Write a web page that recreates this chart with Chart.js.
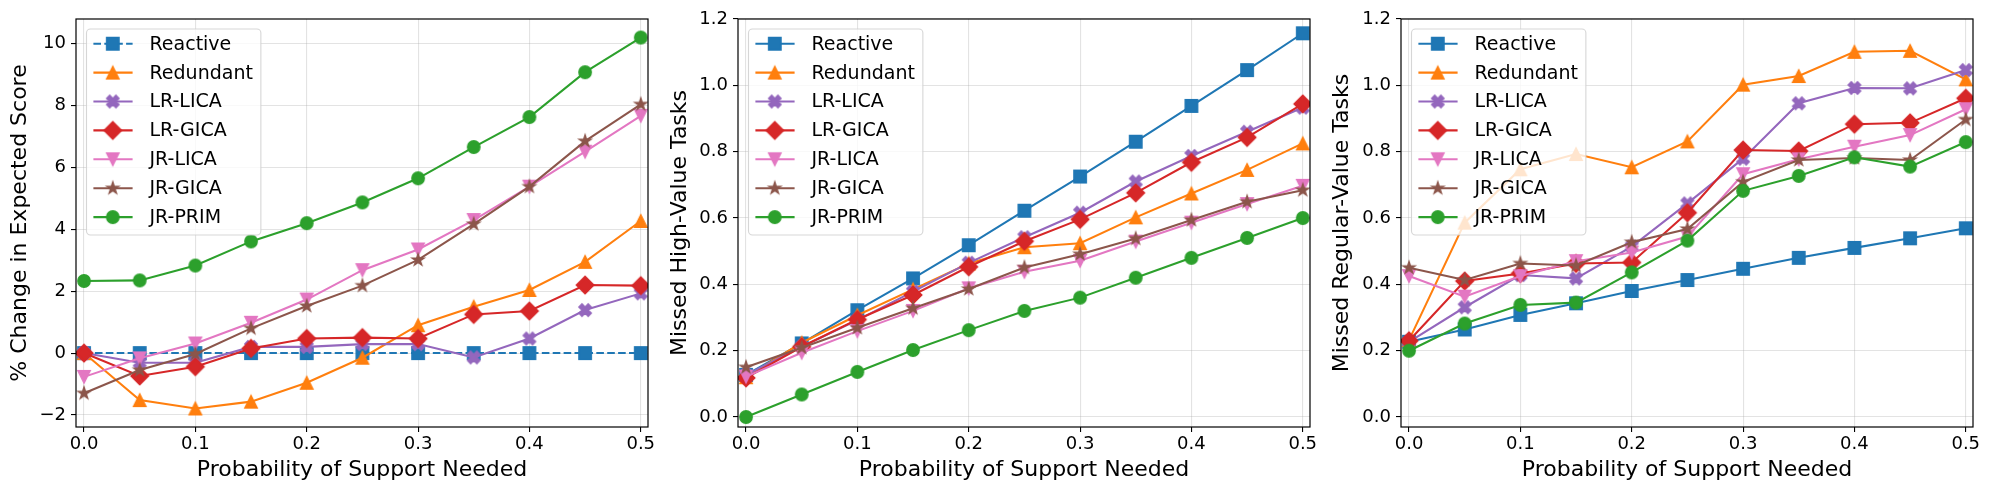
<!DOCTYPE html>
<html>
<head>
<meta charset="utf-8">
<script src="https://cdn.jsdelivr.net/npm/chart.js@4.4.1/dist/chart.umd.min.js"></script>
<style>
body { margin: 0; background: #fff; width: 1991px; height: 491px; overflow: hidden; position: relative; }
canvas { position: absolute; top: 0; }
</style>
</head>
<body>
<canvas id="c1" width="660" height="491" style="left:0px"></canvas>
<canvas id="c2" width="662" height="491" style="left:660px"></canvas>
<canvas id="c3" width="669" height="491" style="left:1322px"></canvas>
<script>
var probs = [0, 0.05, 0.1, 0.15, 0.2, 0.25, 0.3, 0.35, 0.4, 0.45, 0.5];
var xTicks = [0, 0.1, 0.2, 0.3, 0.4, 0.5];
var scoreTicks = [-2, 0, 2, 4, 6, 8, 10];
var missedTicks = [0, 0.2, 0.4, 0.6, 0.8, 1.0, 1.2];

var names = ["Reactive", "Redundant", "LR-LICA", "LR-GICA", "JR-LICA", "JR-GICA", "JR-PRIM"];
var colors = ["#1f77b4", "#ff7f0e", "#9467bd", "#d62728", "#e377c2", "#8c564b", "#2ca02c"];
var markers = ["square", "triangle", "xfilled", "diamond", "tridown", "star", "circle"];

// % change in expected score
var scoreReactive  = [0, 0, 0, 0, 0, 0, 0, 0, 0, 0, 0];
var scoreRedundant = [0, -1.52, -1.79, -1.57, -0.96, -0.15, 0.9, 1.5, 2.04, 2.95, 4.27];
var scoreLRLICA    = [0, -0.31, -0.31, 0.2, 0.2, 0.29, 0.29, -0.14, 0.47, 1.39, 1.93];
var scoreLRGICA    = [0, -0.74, -0.44, 0.15, 0.47, 0.5, 0.47, 1.25, 1.36, 2.2, 2.18];
var scoreJRLICA    = [-0.77, -0.17, 0.31, 0.98, 1.73, 2.68, 3.35, 4.3, 5.38, 6.51, 7.67];
var scoreJRGICA    = [-1.3, -0.55, -0.03, 0.8, 1.52, 2.18, 3.01, 4.17, 5.38, 6.85, 8.04];
var scoreJRPRIM    = [2.33, 2.35, 2.83, 3.61, 4.2, 4.87, 5.65, 6.66, 7.63, 9.08, 10.2];

// missed high-value tasks
var highReactive  = [0.127, 0.222, 0.322, 0.418, 0.518, 0.622, 0.725, 0.83, 0.938, 1.046, 1.157];
var highRedundant = [0.12, 0.224, 0.307, 0.385, 0.463, 0.512, 0.524, 0.602, 0.674, 0.745, 0.825];
var highLRLICA    = [0.127, 0.212, 0.292, 0.378, 0.465, 0.542, 0.616, 0.71, 0.787, 0.86, 0.933];
var highLRGICA    = [0.118, 0.212, 0.294, 0.368, 0.453, 0.53, 0.596, 0.676, 0.768, 0.843, 0.944];
var highJRLICA    = [0.122, 0.194, 0.259, 0.32, 0.388, 0.438, 0.471, 0.529, 0.586, 0.642, 0.697];
var highJRGICA    = [0.15, 0.209, 0.269, 0.328, 0.386, 0.451, 0.491, 0.538, 0.594, 0.649, 0.684];
var highJRPRIM    = [0, 0.068, 0.136, 0.202, 0.262, 0.32, 0.36, 0.42, 0.48, 0.54, 0.6];

// missed regular-value tasks
var regReactive  = [0.227, 0.264, 0.308, 0.343, 0.38, 0.413, 0.447, 0.48, 0.51, 0.539, 0.569];
var regRedundant = [0.232, 0.586, 0.747, 0.793, 0.753, 0.831, 1.002, 1.028, 1.101, 1.104, 1.018];
var regLRLICA    = [0.227, 0.331, 0.428, 0.418, 0.514, 0.644, 0.779, 0.946, 0.992, 0.991, 1.046];
var regLRGICA    = [0.23, 0.41, 0.433, 0.463, 0.466, 0.616, 0.805, 0.802, 0.883, 0.887, 0.961];
var regJRLICA    = [0.425, 0.363, 0.425, 0.47, 0.496, 0.544, 0.732, 0.777, 0.815, 0.85, 0.928];
var regJRGICA    = [0.45, 0.413, 0.463, 0.457, 0.527, 0.567, 0.709, 0.775, 0.781, 0.775, 0.897];
var regJRPRIM    = [0.2, 0.282, 0.338, 0.345, 0.436, 0.532, 0.682, 0.727, 0.783, 0.755, 0.829];

Chart.defaults.font.family = "'DejaVu Sans', sans-serif";
Chart.defaults.color = "#000";

// matplotlib-like marker glyphs
function markerCanvas(kind, color) {
	var S = 12.4;
	var c = document.createElement("canvas");
	c.width = 24; c.height = 24;
	var g = c.getContext("2d");
	g.translate(12, 12);
	g.beginPath();
	if (kind == "circle") {
		g.arc(0, 0, S / 2, 0, Math.PI * 2);
	} else if (kind == "square") {
		g.rect(-S / 2, -S / 2, S, S);
	} else if (kind == "triangle") {
		g.moveTo(0, -S / 2); g.lineTo(S / 2, S / 2); g.lineTo(-S / 2, S / 2);
	} else if (kind == "tridown") {
		g.moveTo(0, S / 2); g.lineTo(S / 2, -S / 2); g.lineTo(-S / 2, -S / 2);
	} else if (kind == "diamond") {
		let d = S * 0.7071;
		g.moveTo(0, -d); g.lineTo(d, 0); g.lineTo(0, d); g.lineTo(-d, 0);
	} else if (kind == "xfilled") {
		let pts = [[0.25,0],[0.5,0.25],[0.75,0],[1,0.25],[0.75,0.5],[1,0.75],[0.75,1],[0.5,0.75],[0.25,1],[0,0.75],[0.25,0.5],[0,0.25]];
		for (let i = 0; i < pts.length; i++) {
			let px = (pts[i][0] - 0.5) * S, py = (pts[i][1] - 0.5) * S;
			if (i == 0) g.moveTo(px, py); else g.lineTo(px, py);
		}
	} else if (kind == "star") {
		for (let k = 0; k < 10; k++) {
			let r = (k % 2) ? S / 2 * 0.381966 : S / 2;
			let a = -Math.PI / 2 + k * Math.PI / 5;
			if (k == 0) g.moveTo(r * Math.cos(a), r * Math.sin(a));
			else g.lineTo(r * Math.cos(a), r * Math.sin(a));
		}
	}
	g.closePath();
	g.fillStyle = color;
	g.fill();
	g.lineWidth = 1.4;
	g.strokeStyle = color;
	g.stroke();
	return c;
}

var markerImgs = markers.map(function(m, i) { return markerCanvas(m, colors[i]); });

// frame + legend drawn inside the axes, like matplotlib
var frameLegend = {
	id: "frameLegend",
	afterDatasetsDraw: function(chart) {
		var ctx = chart.ctx, a = chart.chartArea;
		ctx.save();
		ctx.strokeStyle = "#000";
		ctx.lineWidth = 1.2;
		ctx.strokeRect(a.left, a.top, a.right - a.left, a.bottom - a.top);

		ctx.font = "19px 'DejaVu Sans'";
		var maxW = 0;
		for (let n of names) maxW = Math.max(maxW, ctx.measureText(n).width);
		var bx = a.left + 10.5, by = a.top + 10, bw = 63 + maxW + 8, bh = 206;
		ctx.beginPath();
		ctx.roundRect(bx, by, bw, bh, 4);
		ctx.fillStyle = "rgba(255,255,255,0.8)";
		ctx.fill();
		ctx.strokeStyle = "rgba(204,204,204,0.8)";
		ctx.lineWidth = 1.1;
		ctx.stroke();

		var dsets = chart.data.datasets;
		for (let i = 0; i < names.length; i++) {
			let cy = a.top + 24.7 + i * 28.9;
			ctx.beginPath();
			ctx.setLineDash(dsets[i].borderDash || []);
			ctx.strokeStyle = colors[i];
			ctx.lineWidth = 2.06;
			ctx.moveTo(a.left + 17.4, cy);
			ctx.lineTo(a.left + 56.6, cy);
			ctx.stroke();
			ctx.setLineDash([]);
			ctx.drawImage(markerImgs[i], a.left + 36.8 - 12, cy - 12);
			ctx.fillStyle = "#000";
			ctx.textBaseline = "middle";
			ctx.textAlign = "left";
			ctx.fillText(names[i], a.left + 73.5, cy + 1);
		}
		ctx.restore();
	}
};

function makeChart(id, series, yTitle, yMin, yMax, yTicks, yWidth, padRight, dashFirst, yFmt) {
	var datasets = [];
	for (let i = 0; i < series.length; i++) {
		datasets.push({
			label: names[i],
			data: probs.map(function(p, j) { return {x: p, y: series[i][j]}; }),
			borderColor: colors[i],
			backgroundColor: colors[i],
			borderWidth: 2.06,
			borderDash: (dashFirst && i == 0) ? [7.6, 3.3] : [],
			pointStyle: markerImgs[i],
			pointRadius: 7,
			tension: 0,
			fill: false,
			clip: 0,
			order: -i
		});
	}
	var gridOpts = {
		color: "rgba(176,176,176,0.35)",
		lineWidth: 1.1,
		drawTicks: true,
		tickLength: 5,
		tickColor: "#000",
		tickWidth: 1.1
	};
	return new Chart(id, {
		type: "line",
		data: { datasets: datasets },
		options: {
			responsive: false,
			animation: false,
			devicePixelRatio: 1,
			layout: { padding: { top: 19, right: padRight, bottom: 0, left: 0 } },
			plugins: { legend: false, tooltip: { enabled: false } },
			scales: {
				x: {
					type: "linear",
					min: -0.0072,
					max: 0.5065,
					grid: gridOpts,
					border: { display: false },
					afterBuildTicks: function(s) { s.ticks = xTicks.map(function(v) { return {value: v}; }); },
					afterFit: function(s) { s.height = 64; },
					ticks: {
						font: { size: 18 },
						padding: 2,
						maxRotation: 0,
						callback: function(v) { return v.toFixed(1); }
					},
					title: {
						display: true,
						text: "Probability of Support Needed",
						font: { size: 22 },
						padding: { top: 0, bottom: 8 }
					}
				},
				y: {
					min: yMin,
					max: yMax,
					grid: gridOpts,
					border: { display: false },
					afterBuildTicks: function(s) { s.ticks = yTicks.map(function(v) { return {value: v}; }); },
					afterFit: function(s) { s.width = yWidth; },
					ticks: {
						font: { size: 18 },
						padding: 5,
						callback: yFmt
					},
					title: {
						display: true,
						text: yTitle,
						font: { size: 22 },
						padding: { top: 7, bottom: 0 }
					}
				}
			}
		},
		plugins: [frameLegend]
	});
}

makeChart("c1",
	[scoreReactive, scoreRedundant, scoreLRLICA, scoreLRGICA, scoreJRLICA, scoreJRGICA, scoreJRPRIM],
	"% Change in Expected Score", -2.39, 10.8, scoreTicks, 76, 12, true,
	function(v) { return v < 0 ? "\u2212" + Math.abs(v) : String(v); });

makeChart("c2",
	[highReactive, highRedundant, highLRLICA, highLRGICA, highJRLICA, highJRGICA, highJRPRIM],
	"Missed High-Value Tasks", -0.03, 1.2, missedTicks, 78, 12, false,
	function(v) { return v.toFixed(1); });

makeChart("c3",
	[regReactive, regRedundant, regLRLICA, regLRGICA, regJRLICA, regJRGICA, regJRPRIM],
	"Missed Regular-Value Tasks", -0.03, 1.2, missedTicks, 79, 18, false,
	function(v) { return v.toFixed(1); });
</script>
</body>
</html>
